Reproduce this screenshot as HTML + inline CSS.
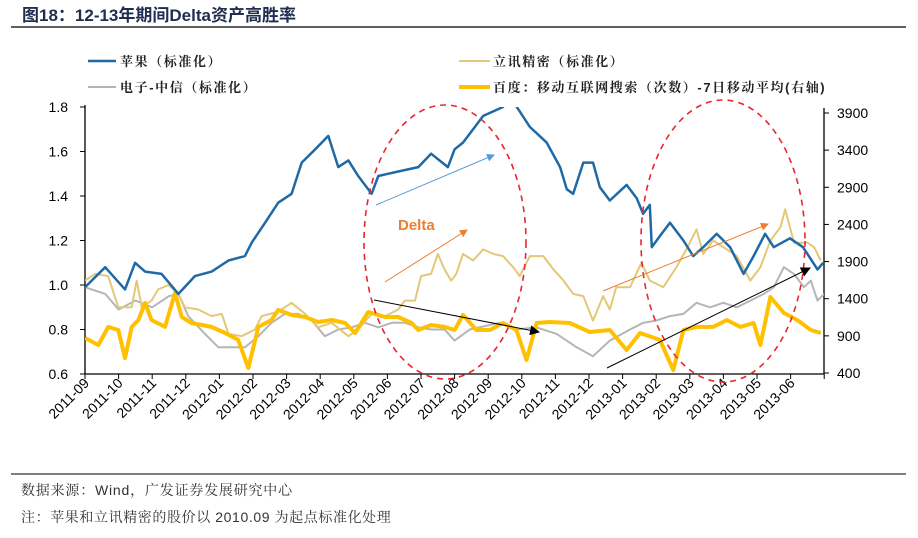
<!DOCTYPE html>
<html><head><meta charset="utf-8"><style>
body{margin:0;background:#fff;width:918px;height:533px;overflow:hidden;font-family:"Liberation Sans","Noto Sans CJK SC",sans-serif}
</style></head><body>
<svg id="c" width="918" height="533" xmlns="http://www.w3.org/2000/svg">
<text x="22" y="21" font-size="17" font-weight="bold" fill="#1f2d4f" font-family="Liberation Sans, Noto Sans CJK SC, sans-serif">图18：12-13年期间Delta资产高胜率</text>
<line x1="11" y1="27" x2="906" y2="27" stroke="#000" stroke-width="1.2"/>
<g font-size="13" fill="#222" letter-spacing="1.6" font-weight="bold" font-family="Liberation Sans, Noto Serif CJK SC, sans-serif">
<g><line x1="88" y1="61" x2="116" y2="61" stroke="#1f6aa5" stroke-width="2.5"/><text x="120" y="66">苹果（标准化）</text></g>
<g><line x1="459" y1="61" x2="490" y2="61" stroke="#e3c878" stroke-width="2"/><text x="493" y="66">立讯精密（标准化）</text></g>
<g><line x1="88" y1="87" x2="116" y2="87" stroke="#b5b5b5" stroke-width="2"/><text x="120" y="92">电子-中信（标准化）</text></g>
<g><line x1="459" y1="87" x2="490" y2="87" stroke="#ffc000" stroke-width="4"/><text x="493" y="92">百度：移动互联网搜索（次数）-7日移动平均(右轴)</text></g>
</g>
<line x1="11" y1="474" x2="906" y2="474" stroke="#000" stroke-width="1"/>
<text x="21" y="495" font-size="14" letter-spacing="0.8" fill="#333" font-family="Liberation Sans, Noto Serif CJK SC, sans-serif">数据来源：Wind，广发证券发展研究中心</text>
<text x="21" y="522" font-size="14" letter-spacing="0.6" fill="#333" font-family="Liberation Sans, Noto Serif CJK SC, sans-serif">注：苹果和立讯精密的股价以 2010.09 为起点标准化处理</text>
<defs>
<clipPath id="pc"><rect x="85" y="107" width="739" height="267"/></clipPath>
<marker id="mb" markerWidth="8" markerHeight="8" refX="7" refY="4" orient="auto" markerUnits="userSpaceOnUse"><path d="M0,0L8,4L0,8z" fill="#5b9bd5"/></marker>
<marker id="mo" markerWidth="8" markerHeight="8" refX="7" refY="4" orient="auto" markerUnits="userSpaceOnUse"><path d="M0,0L8,4L0,8z" fill="#ed7d31"/></marker>
<marker id="mk" markerWidth="10" markerHeight="10" refX="9" refY="5" orient="auto" markerUnits="userSpaceOnUse"><path d="M0,0L10,5L0,10z" fill="#000"/></marker>
</defs>
<g id="plot"></g>
</svg>
<script>
const months=["2011-09","2011-10","2011-11","2011-12","2012-01","2012-02","2012-03","2012-04","2012-05","2012-06","2012-07","2012-08","2012-09","2012-10","2012-11","2012-12","2013-01","2013-02","2013-03","2013-04","2013-05","2013-06"];
const leftTicks=[0.6,0.8,1.0,1.2,1.4,1.6,1.8];
const rightTicks=[400,900,1400,1900,2400,2900,3400,3900];
const appleT=[0,0.6,1.19,1.49,1.79,2.28,2.78,3.27,3.77,4.27,4.76,4.96,5.36,5.75,6.15,6.45,6.85,7.24,7.54,7.84,8.13,8.53,8.73,9.32,9.92,10.3,10.8,11.0,11.25,11.85,12.44,12.7,12.85,13.24,13.74,14.14,14.34,14.53,14.83,15.12,15.32,15.62,16.12,16.42,16.61,16.81,16.87,17.11,17.41,17.81,18.1,18.4,18.8,19.2,19.6,19.9,20.24,20.5,20.98,21.37,21.8,21.97];
const appleV=[0.99,1.08,0.98,1.10,1.06,1.05,0.96,1.04,1.06,1.11,1.13,1.19,1.28,1.37,1.41,1.55,1.61,1.67,1.53,1.56,1.49,1.41,1.49,1.51,1.53,1.59,1.53,1.61,1.64,1.76,1.80,1.88,1.80,1.71,1.64,1.53,1.43,1.41,1.55,1.55,1.44,1.38,1.45,1.39,1.32,1.36,1.17,1.22,1.28,1.20,1.13,1.17,1.23,1.17,1.05,1.13,1.23,1.17,1.21,1.17,1.07,1.10];
const luxT=[0,0.3,0.69,0.99,1.39,1.54,1.69,1.98,2.18,2.48,2.78,2.98,3.37,3.77,4.07,4.27,4.66,5.06,5.26,5.75,6.15,6.55,6.94,7.34,7.84,8.13,8.53,8.93,9.32,9.52,9.82,10.0,10.3,10.5,10.7,10.9,11.05,11.25,11.55,11.85,12.15,12.44,12.74,12.94,13.24,13.64,13.94,14.24,14.53,14.83,15.12,15.42,15.62,15.81,16.22,16.56,16.81,17.21,17.6,17.9,18.2,18.4,18.7,19.1,19.4,19.8,20.1,20.4,20.7,20.84,21.1,21.5,21.7,21.9];
const luxV=[1.02,1.05,1.04,0.90,0.90,1.02,0.90,0.93,0.98,1.00,0.96,0.90,0.89,0.86,0.87,0.78,0.77,0.80,0.86,0.88,0.92,0.87,0.81,0.83,0.77,0.80,0.87,0.86,0.89,0.93,0.93,1.04,1.05,1.14,1.07,1.02,1.05,1.14,1.11,1.16,1.14,1.13,1.08,1.04,1.13,1.13,1.07,1.02,0.96,0.95,0.84,0.95,0.89,0.99,0.99,1.10,1.02,0.99,1.08,1.16,1.25,1.14,1.20,1.16,1.13,1.02,1.08,1.20,1.26,1.34,1.19,1.19,1.17,1.11];
const elecT=[0,0.6,1.0,1.5,2.0,2.5,2.78,3.07,3.57,3.97,4.37,4.76,5.16,5.55,5.95,6.35,6.75,7.14,7.54,7.94,8.33,8.73,9.13,9.52,9.92,10.3,10.7,11.0,11.45,12.34,12.84,13.43,14.04,14.63,15.12,15.62,16.22,16.61,17.0,17.41,17.81,18.2,18.6,19.0,19.4,19.8,20.2,20.5,20.8,21.1,21.4,21.6,21.8,22.0];
const elecV=[0.99,0.96,0.89,0.93,0.90,0.95,0.96,0.86,0.78,0.72,0.72,0.72,0.77,0.83,0.87,0.87,0.84,0.77,0.80,0.81,0.83,0.81,0.83,0.83,0.81,0.80,0.80,0.75,0.80,0.83,0.80,0.81,0.78,0.72,0.68,0.75,0.80,0.83,0.84,0.86,0.87,0.92,0.90,0.92,0.90,0.93,0.96,0.99,1.08,1.05,0.99,1.02,0.93,0.96];
const baiduT=[0,0.4,0.69,0.99,1.19,1.39,1.59,1.79,1.98,2.38,2.68,2.88,3.17,3.77,4.17,4.56,4.86,5.16,5.55,5.75,6.15,6.55,6.94,7.34,7.74,8.04,8.43,8.93,9.32,9.72,9.92,10.3,10.7,11.0,11.25,11.65,12.05,12.44,12.84,13.14,13.44,13.83,14.43,15.02,15.62,16.12,16.52,17.11,17.51,17.81,18.2,18.7,19.1,19.5,19.9,20.1,20.4,20.8,21.2,21.6,21.9];
const baiduV=[871,777,1020,979,602,1020,1114,1343,1114,1020,1477,1154,1073,1020,939,845,468,1020,1114,1248,1181,1154,1087,1114,1073,939,1221,1154,1154,1073,979,1046,1020,979,1181,979,979,1073,979,575,1073,1087,1073,952,979,710,939,845,441,979,1020,1020,1114,1020,1073,777,1423,1208,1114,979,939];

const X0=85,MW=33.6,YT=107,YB=374;
const xS=m=>X0+m*MW;
const yL=v=>YB-(v-0.6)/1.2*(YB-YT);
const yR=v=>373-(v-400)/3500*(373-113);
const NS="http://www.w3.org/2000/svg";
const svg=document.getElementById('c'),plot=document.getElementById('plot');
function mk(tag,at,parent){const e=document.createElementNS(NS,tag);for(const k in at)e.setAttribute(k,at[k]);(parent||plot).appendChild(e);return e;}

let ax=mk('line',{x1:X0,y1:YT-2,x2:X0,y2:YB,stroke:'#000','stroke-width':1.3});


ax=mk('line',{x1:824,y1:YT+1,x2:824,y2:YB,stroke:'#000','stroke-width':1.3});


ax=mk('line',{x1:X0,y1:YB,x2:824,y2:YB,stroke:'#000','stroke-width':1.3});


leftTicks.forEach(v=>{const y=yL(v);mk('line',{x1:X0-5,y1:y,x2:X0,y2:y,stroke:'#000'});
 const t=mk('text',{x:X0-17,y:y+5,'text-anchor':'end','font-size':14,fill:'#000'});t.textContent=v.toFixed(1);
 
 });
rightTicks.forEach(v=>{const y=yR(v);mk('line',{x1:824,y1:y,x2:829,y2:y,stroke:'#000'});
 const t=mk('text',{x:837,y:y+5,'font-size':14,fill:'#000'});t.textContent=v;
 
 });
for(let i=0;i<=months.length;i++){const x=xS(i);mk('line',{x1:x,y1:YB,x2:x,y2:YB+5,stroke:'#000'});}
months.forEach((m,i)=>{const x=xS(i)+5,y=YB+10;
 const t=mk('text',{x:x,y:y,'text-anchor':'end','font-size':14,fill:'#000',transform:`rotate(-45 ${x} ${y})`});t.textContent=m;
 
 });

const g=mk('g',{'clip-path':'url(#pc)'});


function line(T,V,ys,col,w,name){const d=T.map((t,i)=>(i?'L':'M')+xS(t).toFixed(1)+','+ys(V[i]).toFixed(1)).join('');
 const p=mk('path',{d:d,fill:'none',stroke:col,'stroke-width':w,'stroke-linejoin':'round'},g);
 
 }
line(elecT,elecV,yL,'#b5b5b5',2,'electronics-line');
line(luxT,luxV,yL,'#e3c878',2,'luxshare-line');
line(baiduT,baiduV,yR,'#ffc000',4,'baidu-line');
line(appleT,appleV,yL,'#1f6aa5',2.5,'apple-line');

let a;
a=mk('ellipse',{cx:445,cy:242,rx:81,ry:137,fill:'none',stroke:'#e8262d','stroke-width':1.6,'stroke-dasharray':'6,5'});


a=mk('ellipse',{cx:723,cy:241,rx:82,ry:141,fill:'none',stroke:'#e8262d','stroke-width':1.6,'stroke-dasharray':'6,5'});


a=mk('line',{x1:376,y1:205,x2:494,y2:155,stroke:'#5b9bd5','stroke-width':1,'marker-end':'url(#mb)'});


a=mk('line',{x1:385,y1:282,x2:467,y2:230,stroke:'#ed7d31','stroke-width':1,'marker-end':'url(#mo)'});


a=mk('line',{x1:603,y1:291,x2:768,y2:224,stroke:'#ed7d31','stroke-width':1,'marker-end':'url(#mo)'});


a=mk('line',{x1:374,y1:300,x2:539,y2:332,stroke:'#000','stroke-width':1,'marker-end':'url(#mk)'});


a=mk('line',{x1:607,y1:368,x2:810,y2:268,stroke:'#000','stroke-width':1,'marker-end':'url(#mk)'});


a=mk('text',{x:398,y:230,'font-size':15,'font-weight':'bold',fill:'#ed7d31'});a.textContent='Delta';


</script>
</body></html>
